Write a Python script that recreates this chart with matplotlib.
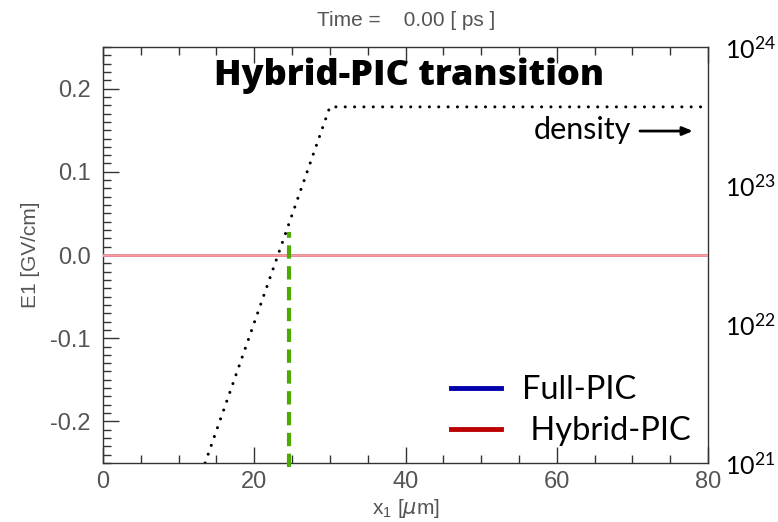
import numpy as np
import matplotlib
matplotlib.use("Agg")
import matplotlib.pyplot as plt
from matplotlib.lines import Line2D
from matplotlib.ticker import MultipleLocator, FixedLocator, NullLocator

# Field snapshot on the simulation grid
x_grid = [0.0, 80.0]
e1_full = [0.0, 0.0]
e1_hybrid = [0.0, 0.0]

# Background density profile (ramp then plateau), cm^-3
density_x = [13.5, 30.0, 80.0]
density_n = [1.0e21, 3.7e23, 3.7e23]

# Full-PIC / Hybrid-PIC transition position
transition_x = 24.6
transition_span = [-0.255, 0.028]

x_ticks = [0, 20, 40, 60, 80]
y_ticks = [-0.2, -0.1, 0.0, 0.1, 0.2]
y_tick_labels = ["-0.2", "-0.1", "0.0", "0.1", "0.2"]
n_ticks = [1e21, 1e22, 1e23, 1e24]
n_tick_labels = [r"$\mathregular{10^{21}}$", r"$\mathregular{10^{22}}$",
                 r"$\mathregular{10^{23}}$", r"$\mathregular{10^{24}}$"]

GRAY = "#555555"
SANS = "Liberation Sans"
HUMANIST = "Lato"

fig = plt.figure(figsize=(7.78, 5.22), dpi=100)
ax = fig.add_axes([103 / 778, 59 / 522, 605 / 778, 416 / 522])

ax.plot(x_grid, e1_full, color="#0000aa", lw=2.0, zorder=2)
ax.plot(x_grid, e1_hybrid, color="#ff9c9c", lw=2.0, zorder=3)
ax.plot([transition_x, transition_x], transition_span, color="#4caa00",
        lw=3.0, linestyle=(0, (3.2, 1.8)), clip_on=False, zorder=4)

ax.set_xlim(0, 80)
ax.set_ylim(-0.25, 0.25)
ax.xaxis.set_major_locator(FixedLocator(x_ticks))
ax.xaxis.set_minor_locator(MultipleLocator(5))
ax.yaxis.set_major_locator(FixedLocator(y_ticks))
ax.set_yticklabels(y_tick_labels)
ax.yaxis.set_minor_locator(MultipleLocator(0.01))
ax.tick_params(which="both", direction="in", top=True, right=True,
               colors="#333333", labelcolor=GRAY, labelsize=17, width=1.0)
ax.tick_params(which="major", length=11.5, pad=6)
ax.tick_params(which="minor", length=5.5)
ax.tick_params(axis="y", which="major", pad=9)
for lab in ax.get_xticklabels() + ax.get_yticklabels():
    lab.set_fontfamily(SANS)
for sp in ax.spines.values():
    sp.set_color("#333333")
    sp.set_linewidth(1.0)

ax.set_xlabel(r"x$_{\mathregular{1}}$ [$\mu$m]", fontsize=15, color=GRAY,
              fontfamily=SANS, labelpad=3)
ax.set_ylabel("E1 [GV/cm]", fontsize=15, color=GRAY, fontfamily=SANS,
              labelpad=7)

# Density on a log scale against the right axis
ax2 = ax.twinx()
ax2.set_yscale("log")
ax2.set_ylim(1e21, 1e24)
ax2.plot(density_x, density_n, color="black", lw=2.2,
         linestyle=(0, (0.01, 3.05)), dash_capstyle="round", zorder=5)
ax2.yaxis.set_major_locator(FixedLocator(n_ticks))
ax2.yaxis.set_minor_locator(NullLocator())
ax2.set_yticklabels(n_tick_labels)
ax2.tick_params(axis="y", which="both", length=0, pad=12, labelsize=18,
                labelcolor="black")
for lab in ax2.get_yticklabels():
    lab.set_fontfamily(HUMANIST)
for sp in ax2.spines.values():
    sp.set_visible(False)

fig.text(406 / 778, 1 - 20 / 522, "Time =    0.00 [ ps ]", ha="center",
         va="center", fontsize=15, color=GRAY, fontfamily=SANS)

ax.text(40.5, 0.204, "Hybrid-PIC transition", ha="center", va="baseline",
        fontsize=26, fontweight=800, fontfamily="Open Sans", color="black",
        zorder=6)
ax.text(69.9, 0.139, "density", ha="right", va="baseline", fontsize=22,
        fontfamily=HUMANIST, color="black", zorder=6)
ax.annotate("", xy=(78.0, 0.149), xytext=(71.0, 0.149),
            arrowprops=dict(arrowstyle="-|>,head_length=0.6,head_width=0.25",
                            color="black", lw=2.0, shrinkA=0, shrinkB=0),
            zorder=6)

handles = [Line2D([], [], color="#0000aa", lw=3.5),
           Line2D([], [], color="#bb0000", lw=3.5)]
leg = ax.legend(handles, ["Full-PIC", " Hybrid-PIC"], loc="lower right",
                bbox_to_anchor=(1.02, -0.03), frameon=False,
                prop={"family": HUMANIST, "size": 23.5},
                handlelength=1.53, handletextpad=0.64, labelspacing=0.33)
leg.set_zorder(7)

fig.savefig("out.png", dpi=100)
